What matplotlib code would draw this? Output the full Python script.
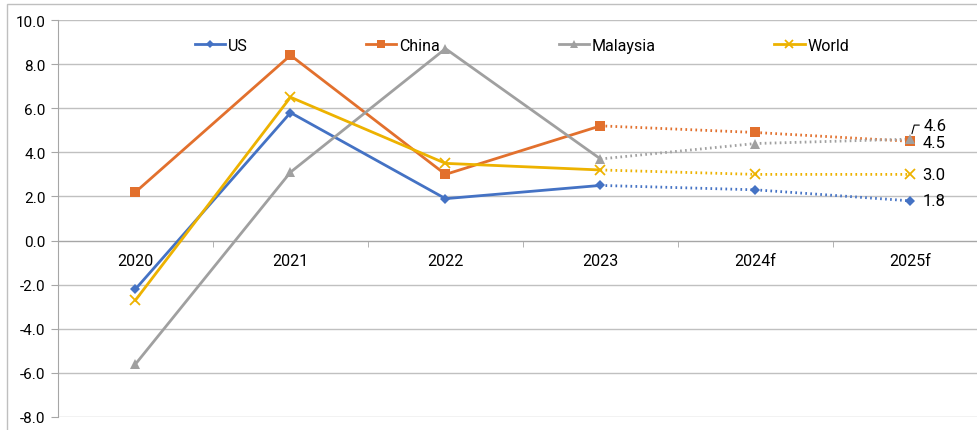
import matplotlib
matplotlib.use("Agg")
import matplotlib.pyplot as plt
from matplotlib.lines import Line2D

plt.rcParams['font.family'] = ['Roboto', 'DejaVu Sans']

# data
years = ['2020', '2021', '2022', '2023', '2024f', '2025f']
us = [-2.2, 5.8, 1.9, 2.5, 2.3, 1.8]
china = [2.2, 8.4, 3.0, 5.2, 4.9, 4.5]
malaysia = [-5.6, 3.1, 8.7, 3.7, 4.4, 4.6]
world = [-2.7, 6.5, 3.5, 3.2, 3.0, 3.0]
n_actual = 4  # 2020-2023 actual, rest forecast

series = [
    ('US', us, '#4472C4', 'D', 5),
    ('China', china, '#E2702D', 's', 6.5),
    ('Malaysia', malaysia, '#A0A0A0', '^', 7),
    ('World', world, '#EDB200', 'x', 7),
]

fig = plt.figure(figsize=(9.78, 4.31), dpi=100)
ax = fig.add_axes([58 / 978, 1 - 418 / 431, 930 / 978, 397 / 431])

# outer chart border (cut off on the right / bottom)
fig.patches.append(plt.Rectangle((7 / 978, -0.2), 1.2, 1.2 - 5 / 431,
                                 transform=fig.transFigure, fill=False,
                                 edgecolor='#BFBFBF', lw=1))

x = list(range(len(years)))
handles = []
for name, vals, col, mk, ms in series:
    mew = 1.3 if mk == 'x' else 0
    ax.plot(x[:n_actual], vals[:n_actual], color=col, lw=2, zorder=3)
    ax.plot(x[n_actual - 1:], vals[n_actual - 1:], color=col, lw=2,
            linestyle=(0, (0.6, 1.2)), zorder=3)
    ax.plot(x, vals, linestyle='none', marker=mk, color=col, ms=ms,
            mew=mew, zorder=4)
    handles.append(Line2D([0], [0], color=col, lw=2, marker=mk, ms=ms - 1,
                          mew=mew, label=name))

# end labels
lab = dict(textcoords='offset pixels', ha='left', va='center', fontsize=12)
ax.annotate(f'{china[-1]:.1f}', (x[-1], china[-1]), xytext=(12, -1), **lab)
ax.annotate(f'{world[-1]:.1f}', (x[-1], world[-1]), xytext=(12, 0), **lab)
ax.annotate(f'{us[-1]:.1f}', (x[-1], us[-1]), xytext=(12, 0), **lab)
ax.annotate(f'{malaysia[-1]:.1f}', (x[-1], malaysia[-1]), xytext=(13, 14),
            arrowprops=dict(arrowstyle='-', color='black', lw=0.8,
                            relpos=(0, 0.5), shrinkA=1, shrinkB=4,
                            connectionstyle='angle,angleA=0,angleB=75,rad=0'),
            **lab)

ax.set_xlim(-0.5, len(years) - 0.5)
ax.set_ylim(-8, 10)
ax.set_yticks([-8, -6, -4, -2, 0, 2, 4, 6, 8, 10])
ax.set_yticklabels([f'{v:.1f}' for v in ax.get_yticks()])
ax.grid(axis='y', color='#C0C0C0', lw=1)
ax.set_axisbelow(True)

for s in ['top', 'right']:
    ax.spines[s].set_visible(False)
ax.spines['left'].set_color('#A6A6A6')
ax.spines['bottom'].set_position(('data', 0))
ax.spines['bottom'].set_color('#A6A6A6')

ax.set_xticks(x)
ax.set_xticklabels(years)
ax.set_xticks([i - 0.5 for i in range(len(years) + 1)], minor=True)
ax.tick_params(axis='x', which='major', length=0, pad=9, labelsize=11.5)
ax.tick_params(axis='x', which='minor', length=4, color='#A6A6A6', direction='out')
ax.tick_params(axis='y', length=5, color='#A6A6A6', labelsize=11, pad=4)

ax.legend(handles=handles, loc='center', bbox_to_anchor=(0.499, 0.937),
          ncol=4, frameon=False, fontsize=11.5, handlelength=1.9,
          handletextpad=0.2, columnspacing=7.4)

fig.savefig('out.png', dpi=100)
